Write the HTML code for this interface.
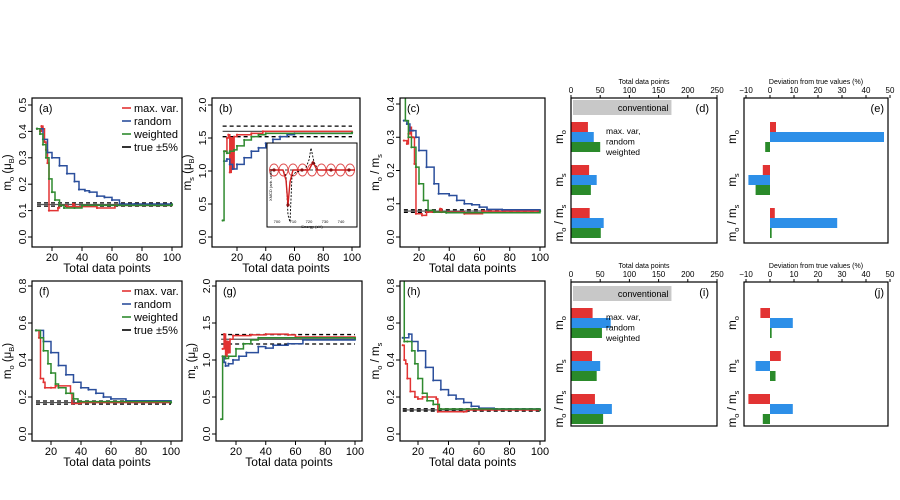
<!DOCTYPE html>
<html><head><meta charset="utf-8">
<style>
html,body{margin:0;padding:0;background:#fff;}
svg{display:block;font-family:"Liberation Sans",sans-serif;}
</style></head>
<body>
<svg id="fig" width="900" height="500" viewBox="0 0 900 500"></svg>
<script>
// ---------- data ----------
const xA_max=[10,12,13,14,15,16,17,18,24,25,30,34,35,50,62,100];
const yA_max=[0.41,0.40,0.42,0.41,0.36,0.33,0.28,0.10,0.11,0.12,0.115,0.125,0.115,0.11,0.12,0.123];
const xA_rnd=[10,14,17,20,25,30,35,38,42,45,50,55,60,65,75,100];
const yA_rnd=[0.41,0.37,0.32,0.30,0.27,0.24,0.21,0.18,0.175,0.17,0.155,0.15,0.14,0.125,0.125,0.123];
const xA_wtd=[10,12,14,16,18,20,22,25,28,35,40,100];
const yA_wtd=[0.41,0.39,0.35,0.30,0.22,0.17,0.14,0.12,0.11,0.11,0.12,0.123];
const trueA=[0.123];

const xB_max=[12,13,14,15,16,17,18,20,30,38,100];
const yB_max=[1.3,1.5,1.55,0.98,1.5,1.03,1.52,1.55,1.57,1.60,1.59];
const xB_rnd=[11,13,15,17,20,25,30,35,40,45,50,55,60,100];
const yB_rnd=[1.15,1.18,1.1,1.03,1.1,1.2,1.3,1.35,1.42,1.48,1.52,1.55,1.57,1.58];
const xB_wtd=[10,11,13,15,18,20,25,30,35,40,100];
const yB_wtd=[0.25,1.3,1.27,1.3,1.32,1.38,1.47,1.52,1.55,1.57,1.58];
const trueB=[1.60];

const xC_max=[10,12,13,14,15,16,17,18,22,25,34,35,50,62,100];
const yC_max=[0.29,0.28,0.31,0.33,0.30,0.30,0.22,0.07,0.065,0.075,0.085,0.075,0.07,0.078,0.078];
const xC_rnd=[10,12,14,16,18,20,25,30,33,40,45,50,55,60,65,75,100];
const yC_rnd=[0.35,0.34,0.32,0.32,0.30,0.26,0.21,0.16,0.13,0.125,0.11,0.10,0.097,0.09,0.083,0.082,0.079];
const xC_wtd=[10,11,13,15,18,20,23,26,30,38,100];
const yC_wtd=[0.45,0.35,0.30,0.27,0.21,0.16,0.11,0.08,0.075,0.073,0.078];
const trueC=[0.078];

const xF_max=[10,12,13,15,16,20,23,33,34,40,100];
const yF_max=[0.56,0.52,0.30,0.28,0.25,0.25,0.26,0.22,0.165,0.17,0.17];
const xF_rnd=[10,15,20,25,30,35,40,45,50,55,60,70,100];
const yF_rnd=[0.56,0.50,0.44,0.37,0.32,0.28,0.25,0.24,0.22,0.20,0.19,0.18,0.17];
const xF_wtd=[10,13,15,18,20,23,25,30,35,38,100];
const yF_wtd=[0.56,0.52,0.45,0.38,0.33,0.27,0.25,0.22,0.19,0.175,0.17];
const trueF=[0.17];

const xG_max=[11,12,13,14,15,16,18,30,40,55,60,100];
const yG_max=[1.15,1.35,1.05,1.25,1.1,1.28,1.33,1.34,1.35,1.34,1.31,1.30];
const xG_rnd=[11,12,13,15,18,22,27,35,40,45,55,65,100];
const yG_rnd=[1.05,0.97,0.92,0.95,1.0,1.05,1.1,1.18,1.16,1.2,1.22,1.27,1.28];
const xG_wtd=[10,11,13,15,20,25,30,35,100];
const yG_wtd=[0.2,1.05,1.02,1.05,1.15,1.22,1.27,1.3,1.29];
const trueG=[1.28];

const xH_max=[10,11,12,13,15,18,20,23,32,33,50,52,100];
const yH_max=[0.48,0.40,0.38,0.30,0.23,0.20,0.19,0.20,0.19,0.12,0.12,0.13,0.13];
const xH_rnd=[10,14,16,20,25,30,35,40,45,50,55,60,70,100];
const yH_rnd=[0.52,0.54,0.50,0.45,0.36,0.29,0.24,0.21,0.19,0.17,0.15,0.14,0.135,0.13];
const xH_wtd=[10,11,13,16,18,20,23,26,30,34,100];
const yH_wtd=[0.85,0.50,0.50,0.45,0.38,0.30,0.22,0.18,0.16,0.135,0.13];
const trueH=[0.13];

const barCats=["mo","ms","ratio"];
const conventional=[172];
const D_max=[29,31,32], D_rnd=[39,44,56], D_wtd=[50,34,51];
const E_max=[2.5,-3,2], E_rnd=[47.5,-9,28], E_wtd=[-2,-6,0.7];
const I_max=[37,36,41], I_rnd=[68,50,70], I_wtd=[53,44,55];
const J_max=[-4,4.5,-9], J_rnd=[9.5,-6,9.5], J_wtd=[0.7,2.3,-3];
const xTicks=[20,40,60,80,100];
const barTicks=[0,50,100,150,200,250];
const devTicks=[-10,0,10,20,30,40,50];

// ---------- helpers ----------
const NS="http://www.w3.org/2000/svg";
const svg=document.getElementById('fig');
function el(tag,attrs,parent,text){const e=document.createElementNS(NS,tag);for(const k in attrs)e.setAttribute(k,attrs[k]);if(text!==undefined)e.textContent=text;(parent||svg).appendChild(e);return e;}
function lin(d0,d1,r0,r1){return v=>r0+(v-d0)*(r1-r0)/(d1-d0);}
const RED="#e23333",BLUE="#2b4f9c",GREEN="#2f8a2f",BBLUE="#2d8fe8",BGREEN="#2a8a2a";

function linePanel(id,box,xs,ys,ymax,yticks,series,trueVal,ylab,legend,cid){
  const g=el('g',{},svg);
  
  
  const sx=lin(20,100,xs[0],xs[1]);
  const sy=lin(0,ymax,ys[1],ys[0]);
  const clip=el('clipPath',{id:cid},g);
  el('rect',{x:box[0],y:box[2],width:box[1]-box[0],height:box[3]-box[2]},clip);
  const tv=trueVal[0];
  const pg=el('g',{'clip-path':'url(#'+cid+')'},g);
  const tl=el('line',{x1:sx(10),x2:sx(100),y1:sy(tv),y2:sy(tv),stroke:'#555','stroke-width':1.2},pg);
  
  
  [0.95,1.05].forEach(f=>{
    const dl=el('line',{x1:sx(10),x2:sx(100),y1:sy(tv*f),y2:sy(tv*f),stroke:'#000','stroke-width':1.3,'stroke-dasharray':'4,3'},pg);
    
    
  });
  series.forEach(s=>{
    let d='';
    for(let i=0;i<s.x.length;i++){
      const px=sx(s.x[i]),py=sy(s.y[i]);
      if(i===0)d+='M'+px+','+py;else d+='H'+px+'V'+py;
    }
    d+='H'+sx(100);
    const p=el('path',{d:d,fill:'none',stroke:s.c,'stroke-width':1.5},pg);
    
    
    for(let i=0;i<s.x.length;i++){
      el('circle',{cx:sx(s.x[i]),cy:sy(s.y[i]),r:1.1,fill:s.c},pg);
    }
  });
  const b=el('rect',{x:box[0],y:box[2],width:box[1]-box[0],height:box[3]-box[2],fill:'none',stroke:'#000','stroke-width':1.2},g);
  
  
  xTicks.forEach(t=>{
    el('line',{x1:sx(t),x2:sx(t),y1:box[3],y2:box[3]+4,stroke:'#000'},g);
    const tx=el('text',{x:sx(t),y:box[3]+14,'font-size':11,'text-anchor':'middle'},g,t);
    
    
  });
  yticks.forEach(t=>{
    el('line',{x1:box[0],x2:box[0]-4,y1:sy(t),y2:sy(t),stroke:'#000'},g);
    const ty=el('text',{x:0,y:0,'font-size':10.5,'text-anchor':'middle',transform:'translate('+(box[0]-6)+','+sy(t)+') rotate(-90)'},g,t.toFixed(1));
    
    
  });
  const xt=el('text',{x:(box[0]+box[1])/2,y:box[3]+25,'font-size':12,'text-anchor':'middle'},g,'Total data points');
  
  
  const yt=el('text',{x:0,y:0,'font-size':11.5,'text-anchor':'middle',transform:'translate('+(box[0]-21)+','+((box[2]+box[3])/2)+') rotate(-90)'},g);
  
  
  yt.innerHTML=ylab;
  const pl=el('text',{x:box[0]+7,y:box[2]+14,'font-size':11},g,'('+id+')');
  
  
  if(legend){
    const items=[['max. var.',RED],['random',BLUE],['weighted',GREEN],['true \u00b15%','#000']];
    items.forEach((it,i)=>{
      const y=box[2]+10+i*13;
      el('line',{x1:box[0]+90,x2:box[0]+99,y1:y,y2:y,stroke:it[1],'stroke-width':1.6},g);
      const lt=el('text',{x:box[0]+102,y:y+4,'font-size':11},g,it[0]);
      
      
    });
  }
  return {sx,sy};
}

const SB=(s)=>'<tspan dy="3" font-size="7.5">'+s+'</tspan>';
const UP=(s)=>'<tspan dy="-3">'+s+'</tspan>';
const moLab='m'+SB('o')+UP(' (\u03bc')+SB('B')+UP(')');
const msLab='m'+SB('s')+UP(' (\u03bc')+SB('B')+UP(')');
const ratLab='m'+SB('o')+UP(' / m')+SB('s');
const moCat='m'+SB('o');
const msCat='m'+SB('s');

function S(xm,ym,xr,yr,xw,yw){return [{n:'max-var',x:xm,y:ym,c:RED},{n:'random',x:xr,y:yr,c:BLUE},{n:'weighted',x:xw,y:yw,c:GREEN}];}

linePanel('a',[32,182,98,247],[52,172],[105,237],0.5,[0,0.1,0.2,0.3,0.4,0.5],S(xA_max,yA_max,xA_rnd,yA_rnd,xA_wtd,yA_wtd),trueA,moLab,true,'ca');
linePanel('b',[212,360,98,247],[237,352],[105,237],2.0,[0,0.5,1.0,1.5,2.0],S(xB_max,yB_max,xB_rnd,yB_rnd,xB_wtd,yB_wtd),trueB,msLab,false,'cb');
linePanel('c',[400,545,98,247],[419,540],[104,237],0.4,[0,0.1,0.2,0.3,0.4],S(xC_max,yC_max,xC_rnd,yC_rnd,xC_wtd,yC_wtd),trueC,ratLab,false,'cc');
linePanel('f',[32,182,281,441],[51,171],[286,434],0.8,[0,0.2,0.4,0.6,0.8],S(xF_max,yF_max,xF_rnd,yF_rnd,xF_wtd,yF_wtd),trueF,moLab,true,'cf');
linePanel('g',[216,362,281,441],[236,355],[286,434],2.0,[0,0.5,1.0,1.5,2.0],S(xG_max,yG_max,xG_rnd,yG_rnd,xG_wtd,yG_wtd),trueG,msLab,false,'cg');
linePanel('h',[400,545,281,441],[418,540],[286,434],0.8,[0,0.2,0.4,0.6,0.8],S(xH_max,yH_max,xH_rnd,yH_rnd,xH_wtd,yH_wtd),trueH,ratLab,false,'ch');

// ---------- inset in (b) ----------
(function(){
  const g=el('g',{},svg);
  
  
  el('rect',{x:267,y:143,width:90,height:84,fill:'#fff',stroke:'#000','stroke-width':1},g);
  const y0=170;
  el('line',{x1:270,x2:355,y1:y0,y2:y0,stroke:'#000','stroke-dasharray':'3,2','stroke-width':0.8},g);
  let d='';
  for(let i=0;i<9;i++){const cx=274+i*9.5;d+=' M'+(cx-4.5)+','+y0+' a4.5,6 0 1,0 9,0 a4.5,6 0 1,0 -9,0';}
  el('path',{d:d,fill:'none',stroke:'#e05050','stroke-width':1},g);
  el('path',{d:'M270,170 L283,170 L286,176 L288,215 L290,222 L292,176 L296,172 L305,170 L309,160 L311,148 L314,162 L318,170 L355,170',fill:'none',stroke:'#000','stroke-dasharray':'2,1.5','stroke-width':0.9},g);
  el('path',{d:'M270,170 L283,170 L286,180 L288,205 L290,182 L293,170 L309,170 L313,162 L317,170 L355,170',fill:'none',stroke:'#d02020','stroke-width':1.4},g);
  [[288,205],[313,163],[274,170],[302,170],[331,170],[349,170]].forEach(p=>el('circle',{cx:p[0],cy:p[1],r:1.6,fill:'#8a1010'},g));
  ['700','710','720','730','740'].forEach((t,i)=>el('text',{x:277+i*16,y:223,'font-size':4,'text-anchor':'middle'},g,t));
  el('text',{x:312,y:228,'font-size':4,'text-anchor':'middle'},g,'Energy (eV)');
  el('text',{x:0,y:0,'font-size':4,'text-anchor':'middle',transform:'translate(272,185) rotate(-90)'},g,'XMCD (arb. units)');
})();

// ---------- bar panels ----------
function countPanel(id,box,mx,rx,wx,top){
  const g=el('g',{},svg);
  
  
  const sx=lin(0,250,box[0],box[1]);
  const cb=el('rect',{x:box[0]+2,y:top,width:sx(conventional[0])-box[0]-2,height:15,fill:'#c8c8c8'},g);
  
  
  el('text',{x:sx(conventional[0])-3,y:top+11,'font-size':9,'text-anchor':'end'},g,'conventional');
  barCats.forEach((c,i)=>{
    const y0=top+22+i*43;
    [[mx,RED],[rx,BBLUE],[wx,BGREEN]].forEach((s,j)=>{
      const r=el('rect',{x:box[0],y:y0+j*10,width:sx(s[0][i])-box[0],height:10,fill:s[1]},g);
      
      
    });
  });
  ['max. var,','random','weighted'].forEach((t,i)=>el('text',{x:box[0]+35,y:top+34+i*10.5,'font-size':8.5},g,t));
  el('rect',{x:box[0],y:box[2],width:box[1]-box[0],height:box[3]-box[2],fill:'none',stroke:'#000','stroke-width':1.2},g);
  barTicks.forEach(t=>{
    el('line',{x1:sx(t),x2:sx(t),y1:box[2],y2:box[2]-3,stroke:'#000'},g);
    el('text',{x:sx(t),y:box[2]-5,'font-size':8,'text-anchor':'middle'},g,t);
  });
  const at=el('text',{x:(box[0]+box[1])/2,y:box[2]-14,'font-size':7,'text-anchor':'middle'},g,'Total data points');
  
  
  el('text',{x:box[1]-8,y:box[2]+14,'font-size':11,'text-anchor':'end'},g,'('+id+')');
  catLabels(g,box[0]-8,top);
}
function devPanel(id,box,mx,rx,wx,top){
  const g=el('g',{},svg);
  
  
  const sx=lin(-10,50,box[0]+2,box[1]+2);
  const x0=sx(0);
  barCats.forEach((c,i)=>{
    const y0=top+22+i*43;
    [[mx,RED],[rx,BBLUE],[wx,BGREEN]].forEach((s,j)=>{
      const v=sx(s[0][i]);
      const r=el('rect',{x:Math.min(x0,v),y:y0+j*10,width:Math.abs(v-x0),height:10,fill:s[1]},g);
      
      
    });
  });
  el('rect',{x:box[0],y:box[2],width:box[1]-box[0],height:box[3]-box[2],fill:'none',stroke:'#000','stroke-width':1.2},g);
  devTicks.forEach(t=>{
    el('line',{x1:sx(t),x2:sx(t),y1:box[2],y2:box[2]-3,stroke:'#000'},g);
    el('text',{x:sx(t),y:box[2]-5,'font-size':8,'text-anchor':'middle'},g,t<0?'\u2212'+(-t):t);
  });
  const at=el('text',{x:(box[0]+box[1])/2,y:box[2]-14,'font-size':7,'text-anchor':'middle'},g,'Deviation from true values (%)');
  
  
  el('text',{x:box[1]-4,y:box[2]+14,'font-size':11,'text-anchor':'end'},g,'('+id+')');
  catLabels(g,box[0]-8,top);
}
function catLabels(g,x,top){
  const labs=[moCat,msCat,ratLab];
  labs.forEach((l,i)=>{
    const t=el('text',{x:0,y:0,'font-size':11.5,'text-anchor':'middle',transform:'translate('+x+','+(top+37+i*43)+') rotate(-90)'},g);
    
    
    t.innerHTML=l;
  });
}
countPanel('d',[571,717,98,243],D_max,D_rnd,D_wtd,100);
devPanel('e',[744,888,98,243],E_max,E_rnd,E_wtd,100);
countPanel('i',[571,717,282,426],I_max,I_rnd,I_wtd,286);
devPanel('j',[744,888,282,426],J_max,J_rnd,J_wtd,286);
</script>
</body></html>
